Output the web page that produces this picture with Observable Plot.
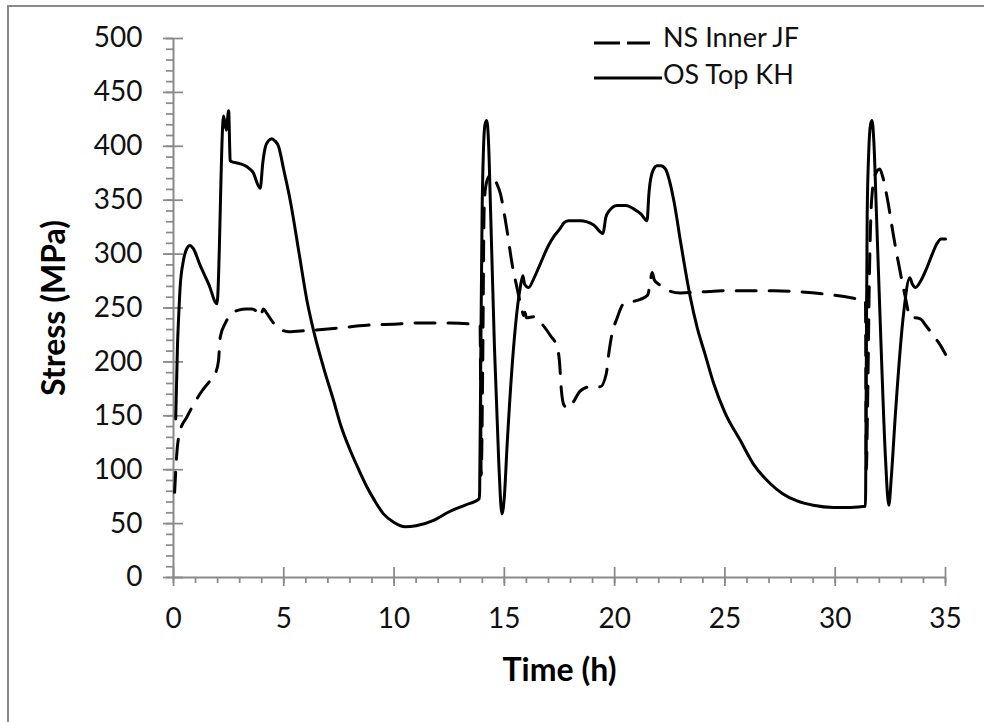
<!DOCTYPE html>
<html><head><meta charset="utf-8">
<script src="https://cdn.jsdelivr.net/npm/d3@7"></script>
<script src="https://cdn.jsdelivr.net/npm/@observablehq/plot@0.6"></script>
<style>
body{margin:0;background:#fff;}
#wrap{position:relative;width:984px;height:722px;overflow:hidden;font-family:Lato,"Open Sans",sans-serif;background:#fff;}
#frame{position:absolute;left:7px;top:5px;width:1000px;height:800px;border-left:2px solid #8a8a8a;border-top:2px solid #8a8a8a;}
#wrap svg{position:absolute;left:0;top:0;}
</style></head><body><div id="wrap"><div id="frame"></div></div>
<script>
// ---- data ----
const seriesNames = ["NS Inner JF", "OS Top KH"];

const nsTime = [0.05,0.15,0.3,0.61,0.98,1.29,1.6,1.89,2.04,2.12,2.35,2.6,2.95,3.3,3.56,3.75,3.93,4.08,4.2,4.46,4.8,5.22,6.0,7.26,8.77,10.0,11.04,12.55,13.5,13.9,13.95,14.02,14.08,14.15,14.3,14.44,14.6,14.82,15.12,15.35,15.57,15.8,15.87,15.93,16.0,16.33,16.71,17.1,17.39,17.5,17.58,17.7,17.87,18.1,18.44,18.9,19.35,19.62,19.75,19.88,20.1,20.41,20.8,21.17,21.5,21.62,21.7,21.8,22.0,22.45,22.98,24.0,24.94,26.0,27.2,28.4,29.5,30.84,31.37,31.41,31.46,31.55,31.65,31.82,32.02,32.15,32.35,32.65,32.96,33.18,33.41,33.6,33.86,34.1,34.47,34.75,35.0];
const nsStress = [79,115,136,149,163,173,181,189,201,223,236,244,248,249,249,247,242,249,246,238,231,228,229,231,234,235,236,236,235,234,95,200,340,362,372,374,368,356,322,291,269,248,243,246,241,242,235,224,214,200,175,160,157,162,173,177,177,189,210,226,240,254,256,258,262,275,283,276,272,266,264,265,266,266,266,265,263,259,257,100,150,280,350,374,379,372,353,316,282,260,241,241,240,234,224,216,207];

const osTime = [0.1,0.18,0.23,0.3,0.45,0.6,0.75,0.9,1.2,1.6,1.97,2.27,2.39,2.5,2.57,2.6,3.0,3.33,3.6,3.93,4.05,4.16,4.3,4.46,4.6,4.76,5.0,5.29,5.7,6.05,6.35,6.8,7.26,7.6,8.01,8.4,8.77,9.1,9.52,10.0,10.5,11.0,11.79,12.5,13.2,13.86,13.88,13.93,13.99,14.05,14.12,14.2,14.28,14.38,14.55,14.75,14.89,15.0,15.12,15.42,15.72,15.84,15.92,16.1,16.35,16.63,17.0,17.23,17.54,17.7,17.9,18.44,19.05,19.47,19.6,19.75,20.11,20.5,20.86,21.2,21.47,21.55,21.62,21.8,21.92,22.1,22.3,22.68,23.0,23.43,23.74,24.1,24.49,25.0,25.7,26.3,27.06,27.6,28.27,29.0,29.93,30.7,31.37,31.38,31.41,31.45,31.52,31.6,31.67,31.75,31.87,32.08,32.28,32.43,32.55,32.73,33.1,33.38,33.5,33.64,33.9,34.17,34.4,34.62,34.8,35.0];
const osStress = [147,215,240,269,294,305,308,305,290,272,254,428,415,433,387,386,384,381,376,361,385,399,405,407,405,400,378,350,300,257,229,195,164,140,118,100,84,72,59,51,47,48,53,61,67,73,80,200,337,395,420,424,405,337,214,105,59,75,121,214,269,280,272,269,278,291,308,316,324,329,331,331,327,319,334,340,345,345,342,337,331,355,368,380,382,382,379,350,310,260,232,207,180,153,127,105,87,78,71,67,65,65,66,80,200,337,395,420,424,405,337,214,110,67,95,152,245,278,272,269,276,288,300,310,314,314];

const xTicks = [0,5,10,15,20,25,30,35];
const xMinorTicks = d3.range(0, 36, 1);
const yTicks = [0,50,100,150,200,250,300,350,400,450,500];
const yMinorTicks = d3.range(0, 501, 10);
const xTitle = "Time (h)";
const yTitle = "Stress (MPa)";

// ---- build ----
const ns = nsTime.map((t, i) => ({t, v: nsStress[i]}));
const os = osTime.map((t, i) => ({t, v: osStress[i]}));
const axisColor = "#8a8a8a";
const font = "Lato, 'Open Sans', sans-serif";

const chart = Plot.plot({
  width: 984, height: 722,
  marginLeft: 173, marginRight: 39, marginTop: 38, marginBottom: 145,
  style: {fontFamily: font, background: "transparent", overflow: "visible", color: "#111"},
  x: {domain: [0, 35]},
  y: {domain: [0, 500]},
  marks: [
    Plot.axisY({ticks: yMinorTicks, tickSize: 7, text: null, label: null, stroke: axisColor, strokeWidth: 1.75}),
    Plot.axisY({ticks: yTicks, tickSize: 20, dx: 10, text: null, label: null, stroke: axisColor, strokeWidth: 1.75}),
    Plot.axisY({ticks: yTicks, tickSize: 0, tickPadding: 31, fontSize: 28, label: null, fill: "#111"}),
    Plot.axisX({ticks: xMinorTicks, tickSize: 6, text: null, label: null, stroke: axisColor, strokeWidth: 1.75}),
    Plot.axisX({ticks: xTicks, tickSize: 19, dy: -10, text: null, label: null, stroke: axisColor, strokeWidth: 1.75}),
    Plot.axisX({ticks: xTicks, tickSize: 0, tickPadding: 31, fontSize: 28, label: null, fill: "#111"}),
    Plot.ruleX([0], {stroke: axisColor, strokeWidth: 2}),
    Plot.ruleY([0], {stroke: axisColor, strokeWidth: 2}),
    Plot.line(os, {x: "t", y: "v", stroke: "#000", strokeWidth: 3, curve: "monotone-x"}),
    Plot.line(ns, {x: "t", y: "v", stroke: "#000", strokeWidth: 3, strokeDasharray: "20,13", curve: "monotone-x"}),
    Plot.text([xTitle], {frameAnchor: "bottom", dy: 93, lineAnchor: "middle", textAnchor: "middle", fontSize: 32, fontWeight: "bold", fill: "#000"}),
    Plot.text([yTitle], {frameAnchor: "left", dx: -119, rotate: -90, lineAnchor: "middle", textAnchor: "middle", fontSize: 32, fontWeight: "bold", fill: "#000"})
  ]
});
document.getElementById("wrap").appendChild(chart);

// ---- legend ----
const leg = d3.select("#wrap").append("svg").attr("width", 984).attr("height", 722)
  .style("pointer-events", "none");
const legendItems = [
  {name: seriesNames[0], y: 43, x2: 650, dash: "26,7", ty: 47},
  {name: seriesNames[1], y: 78, x2: 662, dash: null, ty: 84}
];
legendItems.forEach(d => {
  leg.append("line").attr("x1", 594).attr("x2", d.x2).attr("y1", d.y).attr("y2", d.y)
    .attr("stroke", "#000").attr("stroke-width", 3).attr("stroke-dasharray", d.dash);
  leg.append("text").attr("x", 663).attr("y", d.ty).text(d.name)
    .attr("font-family", font).attr("font-size", 27).attr("fill", "#111");
});
</script>
</body></html>
